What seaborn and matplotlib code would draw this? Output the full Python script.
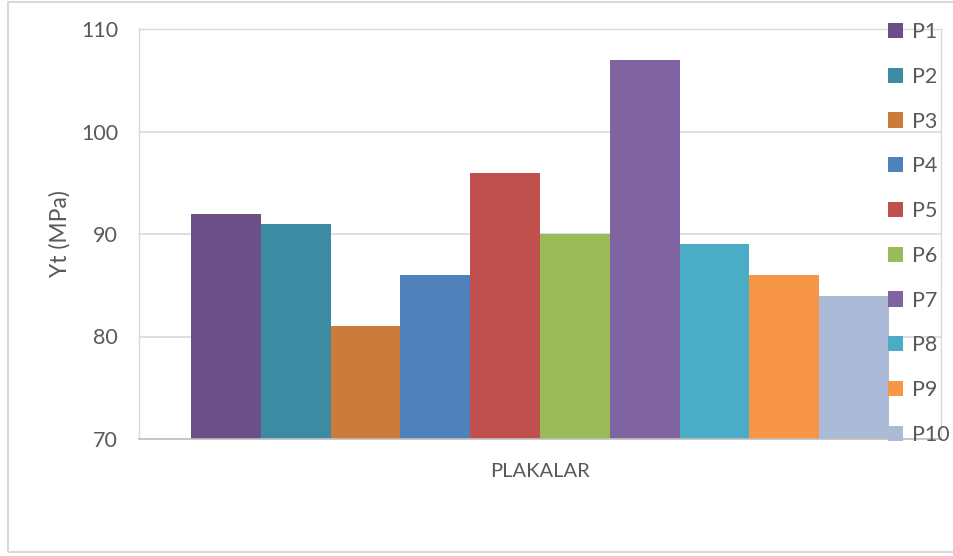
import matplotlib
matplotlib.use("Agg")
import matplotlib.pyplot as plt
from matplotlib.patches import Rectangle, Patch
import seaborn as sns
import pandas as pd

# Tensile strength (Yt) of each plate
plates = ["P1", "P2", "P3", "P4", "P5", "P6", "P7", "P8", "P9", "P10"]
yt_values = [92, 91, 81, 86, 96, 90, 107, 89, 86, 84]
group = ["PLAKALAR"] * len(plates)
colors = ["#6a5087", "#3d8ba3", "#cb7b3a", "#4f81bd", "#c0504d",
          "#9bbb59", "#8064a2", "#4bacc6", "#f79646", "#aabad7"]
y_ticks = [70, 80, 90, 100, 110]

df = pd.DataFrame({"group": group, "plate": plates, "yt": yt_values})

sns.set_theme(style="white")
plt.rcParams["font.family"] = ["Lato", "DejaVu Sans"]

fig = plt.figure(figsize=(9.54, 5.56), dpi=100)
ax = fig.add_axes([139 / 954, 1 - 439 / 556, (941 - 139) / 954, (439 - 29) / 556])

sns.barplot(data=df, x="group", y="yt", hue="plate", hue_order=plates,
            palette=colors, saturation=1, width=0.87, linewidth=0,
            legend=False, ax=ax)

ax.set_ylim(70, 110)
ax.set_xlim(-0.5, 0.5)
ax.set_yticks(y_ticks)
ax.yaxis.grid(True, color="#d9d9d9", linewidth=1.2)
ax.set_axisbelow(True)
ax.tick_params(axis="y", length=0, pad=15, labelsize=15.5, labelcolor="#595959")
ax.tick_params(axis="x", length=0, pad=17, labelsize=14.5, labelcolor="#595959")
ax.set_xlabel("")
ax.set_ylabel("Yt (MPa)", fontsize=16.5, color="#595959")
ax.yaxis.set_label_coords(-0.085, 0.5)

for side in ["left", "right", "top"]:
    ax.spines[side].set_color("#d9d9d9")
    ax.spines[side].set_linewidth(1.0)
ax.spines["bottom"].set_color("#bfbfbf")
ax.spines["bottom"].set_linewidth(1.2)

handles = [Patch(facecolor=c, edgecolor="none") for c in colors]
leg = ax.legend(handles, plates, loc="upper left",
                bbox_to_anchor=(888 / 954, 1 - 22 / 556),
                bbox_transform=fig.transFigure, frameon=False,
                fontsize=15.5, handlelength=0.7, handleheight=0.7,
                handletextpad=0.4, labelspacing=1.15, borderaxespad=0,
                borderpad=0)
for t in leg.get_texts():
    t.set_color("#595959")

# Light frame around the chart area
fig.patches.append(Rectangle((8 / 954, 1 - 552 / 556), 1.0, (552 - 2) / 556,
                             transform=fig.transFigure, fill=False,
                             edgecolor="#d9d9d9", linewidth=1.5))

fig.savefig("out.png", dpi=100, facecolor="white")
